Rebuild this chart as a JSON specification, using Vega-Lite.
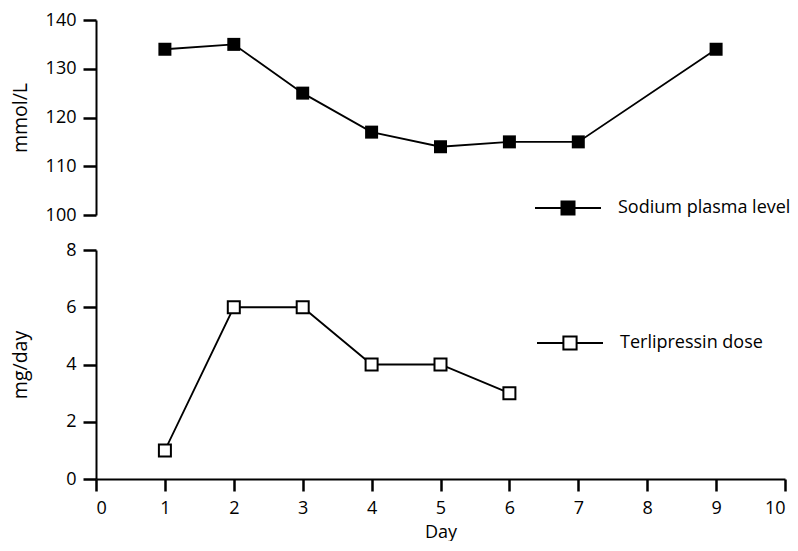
{
  "$schema": "https://vega.github.io/schema/vega-lite/v6.json",
  "background": "white",
  "padding": {"left": 10, "top": 11, "right": 10, "bottom": 0},
  "config": {
    "font": "Open Sans",
    "view": {"stroke": null},
    "axis": {
      "labelFont": "Open Sans", "titleFont": "Open Sans", "labelFontSize": 18, "titleFontSize": 19.5,
      "titleFontWeight": "normal", "labelColor": "black", "titleColor": "black",
      "domainColor": "black", "tickColor": "black", "domainWidth": 2, "tickWidth": 2.5,
      "tickSize": 13, "grid": false, "labelPadding": 7
    },
    "legend": {"labelFont": "Open Sans", "labelFontSize": 18, "labelColor": "black", "labelLimit": 400}
  },
  "spacing": 17,
  "resolve": {"scale": {"color": "independent"}, "legend": {"color": "independent"}},
  "vconcat": [
    {
      "width": 689, "height": 195,
      "data": {"values": [
        {"day": 1, "value": 134, "series": "Sodium plasma level"},
        {"day": 2, "value": 135, "series": "Sodium plasma level"},
        {"day": 3, "value": 125, "series": "Sodium plasma level"},
        {"day": 4, "value": 117, "series": "Sodium plasma level"},
        {"day": 5, "value": 114, "series": "Sodium plasma level"},
        {"day": 6, "value": 115, "series": "Sodium plasma level"},
        {"day": 7, "value": 115, "series": "Sodium plasma level"},
        {"day": 9, "value": 134, "series": "Sodium plasma level"}
      ]},
      "encoding": {
        "x": {"field": "day", "type": "quantitative", "scale": {"domain": [0, 10], "nice": false}, "axis": null},
        "y": {"field": "value", "type": "quantitative", "scale": {"domain": [100, 140], "nice": false, "zero": false},
              "axis": {"title": "mmol/L", "values": [100, 110, 120, 130, 140], "titleX": -66}}
      },
      "layer": [
        {"mark": {"type": "line", "color": "black", "strokeWidth": 1.8}},
        {"mark": {"type": "point", "shape": "square", "filled": true, "size": 169, "opacity": 1},
         "encoding": {"color": {"field": "series", "type": "nominal", "scale": {"range": ["black"]},
           "legend": {"title": null, "orient": "none", "legendX": 438, "legendY": 154, "padding": 0,
             "symbolType": "M-1,0H-0.2M0.2,0H1M-0.2,-0.2H0.2V0.2H-0.2Z", "symbolSize": 4356,
             "symbolStrokeColor": "black", "symbolFillColor": "black", "symbolStrokeWidth": 1.8, "labelOffset": 16}}}}
      ]
    },
    {
      "width": 689, "height": 229,
      "data": {"values": [
        {"day": 1, "value": 1, "series": "Terlipressin dose"},
        {"day": 2, "value": 6, "series": "Terlipressin dose"},
        {"day": 3, "value": 6, "series": "Terlipressin dose"},
        {"day": 4, "value": 4, "series": "Terlipressin dose"},
        {"day": 5, "value": 4, "series": "Terlipressin dose"},
        {"day": 6, "value": 3, "series": "Terlipressin dose"}
      ]},
      "encoding": {
        "x": {"field": "day", "type": "quantitative", "scale": {"domain": [0, 10], "nice": false},
              "axis": {"title": "Day", "values": [0, 1, 2, 3, 4, 5, 6, 7, 8, 9, 10], "tickSize": 12, "labelPadding": 8, "titlePadding": 6, "titleFontSize": 18}},
        "y": {"field": "value", "type": "quantitative", "scale": {"domain": [0, 8], "nice": false},
              "axis": {"title": "mg/day", "values": [0, 2, 4, 6, 8], "titleX": -66}}
      },
      "layer": [
        {"mark": {"type": "line", "color": "black", "strokeWidth": 1.8}},
        {"mark": {"type": "point", "shape": "square", "filled": false, "fill": "white", "stroke": "black", "strokeWidth": 2, "size": 144, "opacity": 1},
         "encoding": {"color": {"field": "series", "type": "nominal", "scale": {"range": ["black"]},
           "legend": {"title": null, "orient": "none", "legendX": 440, "legendY": 59, "padding": 0,
             "symbolType": "M-1,0H-0.2M0.2,0H1M-0.2,-0.2H0.2V0.2H-0.2Z", "symbolSize": 4356,
             "symbolStrokeColor": "black", "symbolFillColor": "white", "symbolStrokeWidth": 2, "labelOffset": 16}}}}
      ]
    }
  ]
}
